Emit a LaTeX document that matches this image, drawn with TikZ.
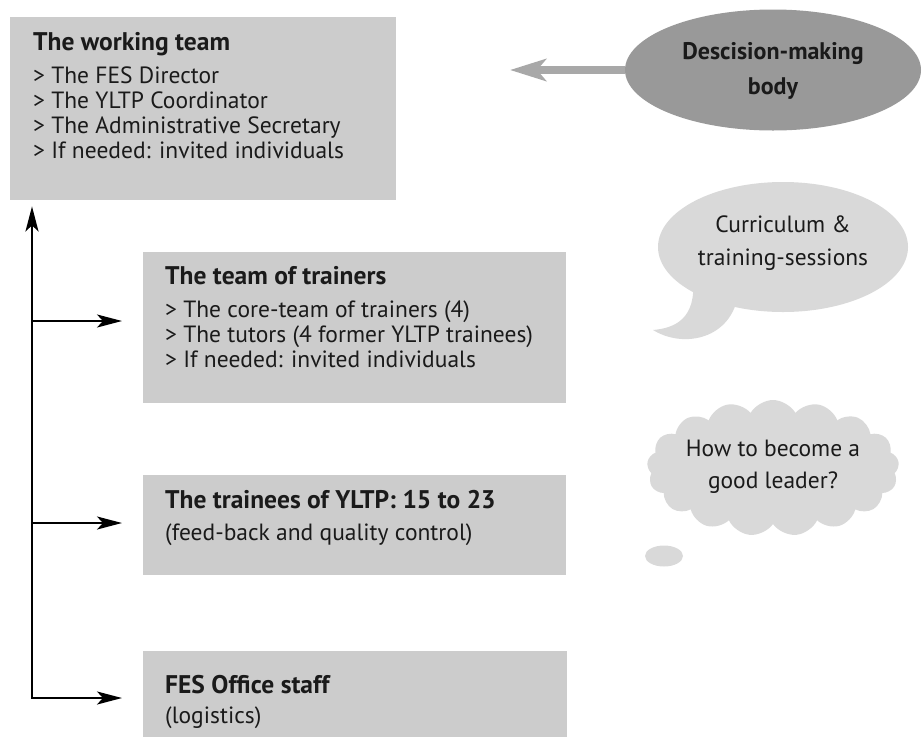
\documentclass[tikz,border=0pt]{standalone}
\usepackage{fontspec}
\setmainfont{PT Sans}
\usetikzlibrary{shapes.geometric,shapes.symbols,arrows.meta}
\definecolor{boxgray}{HTML}{CCCCCC}
\definecolor{dkgray}{HTML}{999999}
\definecolor{argray}{HTML}{A8A8A8}
\definecolor{ltgray}{HTML}{D9D9D9}
\definecolor{txt}{HTML}{1A1A1A}
\begin{document}
\begin{tikzpicture}[x=1pt,y=-1pt,
  boxstyle/.style={fill=boxgray, draw=none, inner sep=0pt, anchor=north west},
  ln/.style={anchor=base west, inner sep=0pt, text=txt, font=\fontsize{23.5}{28}\selectfont},
  ttl/.style={ln, font=\bfseries\fontsize{25.5}{30}\selectfont},
  bl/.style={anchor=base, inner sep=0pt, text=txt, font=\fontsize{23.5}{28}\selectfont},
  arr/.style={line width=2.2pt, line cap=rect, -{Stealth[length=25pt,width=13pt,inset=6pt]}},
  grayarr/.style={line width=8pt, argray, -{Stealth[length=36pt,width=22pt,inset=9pt]}},
]
\useasboundingbox (0,0) rectangle (923,737);

% boxes
\node[boxstyle, minimum width=386pt, minimum height=183pt] (wt) at (10,17) {};
\node[boxstyle, minimum width=423pt, minimum height=151pt] (tt) at (143,252) {};
\node[boxstyle, minimum width=423pt, minimum height=100pt] (tr) at (143,475) {};
\node[boxstyle, minimum width=424pt, minimum height=86pt] (fo) at (143,651) {};

% working team
\node[ttl] (wt0) at (33,50) {The working team};
\node[ln] (wt1) at (33,83) {> The FES Director};
\node[ln] (wt2) at (33,108) {> The YLTP Coordinator};
\node[ln] (wt3) at (33,133) {> The Administrative Secretary};
\node[ln] (wt4) at (33,158) {> If needed: invited individuals};

% team of trainers
\node[ttl] (tt0) at (165,284) {The team of trainers};
\node[ln] (tt1) at (165,317) {> The core-team of trainers (4)};
\node[ln] (tt2) at (165,342) {> The tutors (4 former YLTP trainees)};
\node[ln] (tt3) at (165,367) {> If needed: invited individuals};

% trainees
\node[ttl] (tr0) at (165,508) {The trainees of YLTP: 15 to 23};
\node[ln] (tr1) at (165,540) {(feed-back and quality control)};

% office staff
\node[ttl] (fo0) at (165,693) {FES Office staff};
\node[ln] (fo1) at (165,723) {(logistics)};

% decision making body
\node[ellipse, fill=dkgray, minimum width=296pt, minimum height=121pt, inner sep=0pt] (dmb) at (773,70) {};
\node[bl, font=\bfseries\fontsize{24}{28}\selectfont] (dmb1) at (773,59) {Descision-making};
\node[bl, font=\bfseries\fontsize{24}{28}\selectfont] (dmb2) at (773,94) {body};
\coordinate (dmbtip) at (510,70);
\draw[grayarr] (dmb.west) -- (dmbtip);

% speech bubble
\fill[ltgray] (693,280) .. controls (696,318) and (676,328) .. (653,330) .. controls (682,348) and (727,340) .. (737,300) -- cycle;
\node[ellipse, fill=ltgray, minimum width=250pt, minimum height=130pt, inner sep=0pt] (cb) at (783,247) {};
\node[bl] (cb1) at (783,232) {Curriculum \&};
\node[bl] (cb2) at (783,265) {training-sessions};

% thought cloud
\node[cloud, cloud puffs=17, cloud puff arc=120, aspect=1.85, minimum width=252pt, minimum height=136pt, fill=ltgray, inner sep=0pt] (cl) at (773,468) {};
\node[ellipse, fill=ltgray, minimum width=38pt, minimum height=21pt, inner sep=0pt] (cltail) at (664,556) {};
\node[bl] (cl1) at (773,456) {How to become a};
\node[bl] (cl2) at (773,488) {good leader?};

% connectors
\coordinate (s1) at (32,321);
\coordinate (s2) at (32,523);
\coordinate (s3) at (32,698);
\draw[arr, shorten >=6pt] (s3) -- (s3 |- wt.south);
\draw[arr, shorten >=21pt] (s1) -- (s1 -| tt.west);
\draw[arr, shorten >=21pt] (s2) -- (s2 -| tr.west);
\draw[arr, shorten >=21pt] (s3) -- (s3 -| fo.west);
\end{tikzpicture}
\end{document}
